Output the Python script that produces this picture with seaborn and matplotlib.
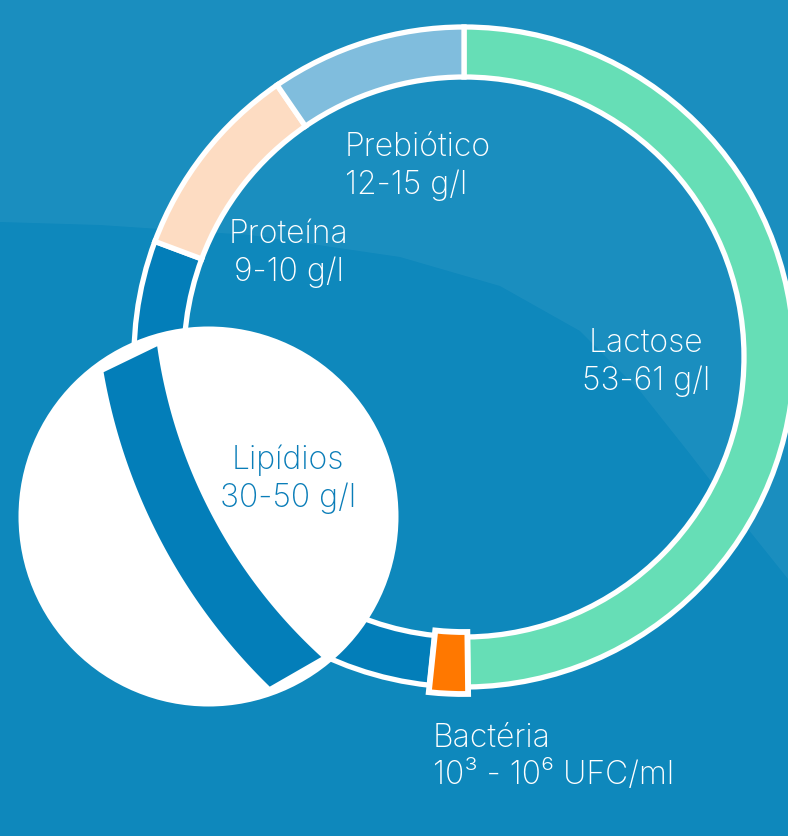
import matplotlib.pyplot as plt
import matplotlib.patches as mpatches
import numpy as np
import seaborn as sns

# composition of breast milk, shown as share of the ring (degrees of arc)
nutrients = ['Lactose', 'Bactéria', 'Lipídios', 'Proteína', 'Prebiótico']
ranges = ['53-61 g/l', '10³ - 10⁶ UFC/ml', '30-50 g/l', '9-10 g/l', '12-15 g/l']
arc_share = [179.3, 6.7, 104.5, 35.0, 34.5]
colors = ['#66DEB6', '#FF7800', '#037EB9', '#FDDCC2', '#80BDDD']

sns.set_theme(style='white')
plt.rcParams['font.family'] = ['Inter', 'DejaVu Sans']

W, H = 788, 837
BG = '#0E88BC'

fig = plt.figure(figsize=(W / 100, H / 100), dpi=100)
fig.patch.set_facecolor(BG)
ax = fig.add_axes([0, 0, 1, 1])
ax.set_facecolor(BG)

# subtle lighter band in the background
band = [(0, 0), (788, 0), (788, 580), (740, 520), (690, 455), (640, 392),
        (580, 332), (500, 287), (400, 258), (250, 236), (100, 226), (0, 223)]
ax.add_patch(mpatches.Polygon([(x, H - y) for x, y in band], closed=True,
                              fc='white', ec='none', alpha=0.05, zorder=0))

cx, cy = 464, H - 358
wedges, _ = ax.pie(arc_share, colors=colors, startangle=90, counterclock=False,
                   radius=330, center=(cx, cy),
                   wedgeprops=dict(width=50, edgecolor='white', linewidth=3.8))
for w in wedges:
    w.set_zorder(2)

# bacteria block sticks out a little
bact = wedges[1]
bact.set_radius(337)
bact.set_width(62)
bact.set_linewidth(4.2)
bact.set_zorder(3)

# magnifier circle with enlarged lipid band
lens = mpatches.Circle((208.5, H - 517.5), 190, fc='white', ec='none', zorder=5)
ax.add_patch(lens)

mc = (672, H - 274)
t_out = np.radians(np.linspace(189.9, 225.8, 80))
t_in = np.radians(np.linspace(227.6, 188.1, 80))
pts = np.vstack([
    np.column_stack([mc[0] + 577 * np.cos(t_out), mc[1] + 577 * np.sin(t_out)]),
    np.column_stack([mc[0] + 520 * np.cos(t_in), mc[1] + 520 * np.sin(t_in)]),
])
mag = mpatches.Polygon(pts, closed=True, fc=colors[2], ec='none', zorder=6)
ax.add_patch(mag)
mag.set_clip_path(lens)

# labels
label_pos = {
    'Lactose': (646, 362, 'center', 'white'),
    'Bactéria': (433, 757, 'left', 'white'),
    'Lipídios': (288, 479, 'center', '#0A7DB8'),
    'Proteína': (289, 253, 'center', 'white'),
    'Prebiótico': (345, 166, 'left', 'white'),
}
for name, rng in zip(nutrients, ranges):
    x, y, ha, col = label_pos[name]
    ax.text(x, H - y, f'{name}\n{rng}', ha=ha, va='center', ma=ha,
            color=col, fontsize=23, fontweight='light', linespacing=1.28,
            zorder=8)

ax.set_xlim(0, W)
ax.set_ylim(0, H)
ax.set_aspect('equal')
ax.axis('off')

fig.savefig('out.png', dpi=100, facecolor=BG)
